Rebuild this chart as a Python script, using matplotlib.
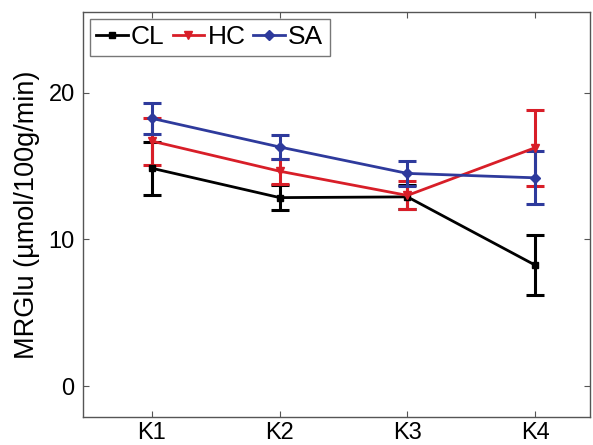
import matplotlib
matplotlib.use("Agg")
import matplotlib.pyplot as plt

plt.rcParams['font.family'] = ['Liberation Sans', 'DejaVu Sans']

# categories and values
stages = ['K1', 'K2', 'K3', 'K4']
x = [1, 2, 3, 4]

cl_mean = [14.85, 12.85, 12.9, 8.25]
cl_err = [1.8, 0.85, 0.8, 2.05]

hc_mean = [16.7, 14.65, 13.0, 16.25]
hc_err = [1.6, 0.85, 0.95, 2.6]

sa_mean = [18.25, 16.3, 14.5, 14.2]
sa_err = [1.05, 0.85, 0.85, 1.8]

black = '#000000'
red = '#d81e28'
blue = '#2e3a9c'

fig = plt.figure(figsize=(5.93, 4.45), dpi=100)
ax = fig.add_axes([0.14, 0.063, 0.855, 0.910])

series = [
    ('CL', cl_mean, cl_err, black, 's', 5),
    ('HC', hc_mean, hc_err, red, 'v', 5.5),
    ('SA', sa_mean, sa_err, blue, 'D', 5.5),
]
handles = []
for name, m, e, c, mk, ms in series:
    cont = ax.errorbar(x, m, yerr=e, color=c, marker=mk, markersize=ms, lw=2,
                       elinewidth=2.2, capsize=6.5, capthick=2.2, label=name)
    handles.append(cont.lines[0])

ax.set_xlim(0.46, 4.43)
ax.set_ylim(-2.1, 25.5)
ax.set_xticks(x)
ax.set_xticklabels(stages)
ax.set_yticks([0, 10, 20])
ax.set_ylabel('MRGlu (µmol/100g/min)', fontsize=19.5, labelpad=6)

for s in ax.spines.values():
    s.set_color('#555555')
    s.set_linewidth(1.0)
ax.tick_params(direction='in', length=4, color='#555555', labelsize=17,
               top=True, right=True, pad=6)
ax.tick_params(axis='x', pad=3.5)

leg = ax.legend(handles, ['CL', 'HC', 'SA'], loc='upper left', ncol=3,
                fontsize=19, frameon=True, fancybox=False, edgecolor='#555555',
                handlelength=1.2, handletextpad=0.12, columnspacing=0.3,
                borderpad=0.25, borderaxespad=0.25)
leg.get_frame().set_linewidth(1.0)

fig.savefig('out.png', dpi=100)
